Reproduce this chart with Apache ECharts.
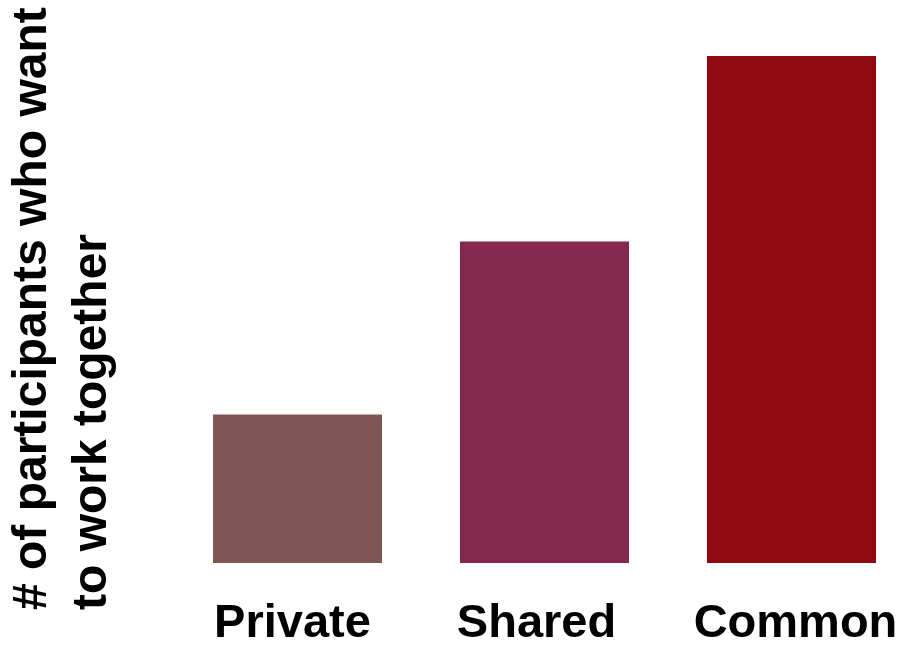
<!DOCTYPE html>
<html>
<head>
<meta charset="utf-8">
<script src="https://cdn.jsdelivr.net/npm/echarts@6/dist/echarts.min.js"></script>
<style>
  html, body { margin: 0; padding: 0; background: #fff; }
  #main { width: 903px; height: 648px; }
</style>
</head>
<body>
<div id="main"></div>
<script>
// data
var categories = ['Private', 'Shared', 'Common'];
var counts = [12, 26, 41];
var barColors = ['#7F5656', '#85284E', '#8F0A11'];
var yTitle = '# of participants who want\nto work together';

// small horizontal nudges of the labels (px), as in the original slide
var labelShift = [-5, -8, 4];

var chart = echarts.init(document.getElementById('main'), null, { renderer: 'canvas' });

var option = {
  animation: false,
  grid: {
    left: 174,
    right: -12,
    top: 56,
    bottom: 85,
    containLabel: false,
    outerBoundsMode: 'none'
  },
  xAxis: {
    type: 'category',
    data: categories.map(function (c, i) {
      var s = labelShift[i];
      return {
        value: c,
        textStyle: { padding: s < 0 ? [0, -2 * s, 0, 0] : [0, 0, 0, 2 * s] }
      };
    }),
    axisLine: { show: false },
    axisTick: { show: false },
    axisLabel: {
      interval: 0,
      margin: 38,
      color: '#000',
      fontSize: 47,
      fontWeight: 'bold',
      fontFamily: 'Liberation Sans, Arial, sans-serif'
    }
  },
  yAxis: {
    type: 'value',
    min: 0,
    max: 41,
    axisLabel: { show: false },
    axisLine: { show: false },
    axisTick: { show: false },
    splitLine: { show: false } // no grid lines
  },
  // rotated axis title, both lines start at the bottom
  graphic: [{
    type: 'text',
    x: 63,
    y: 610,
    rotation: Math.PI / 2,
    style: {
      text: yTitle,
      fill: '#000',
      fontSize: 48,
      fontWeight: 'bold',
      lineHeight: 60,
      fontFamily: 'Liberation Sans, Arial, sans-serif',
      align: 'left',
      verticalAlign: 'middle'
    }
  }],
  series: [{
    type: 'bar',
    barWidth: 169,
    data: counts.map(function (v, i) {
      return { value: v, itemStyle: { color: barColors[i] } };
    })
  }]
};

chart.setOption(option);
</script>
</body>
</html>
